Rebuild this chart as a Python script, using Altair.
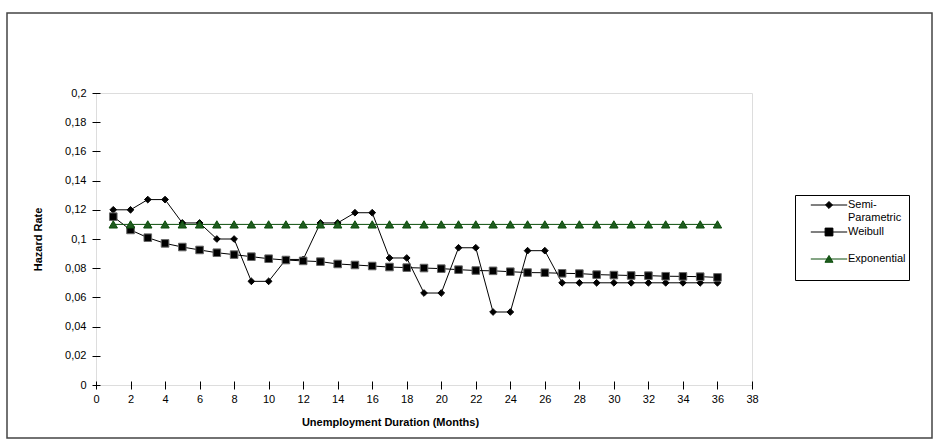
import altair as alt
import pandas as pd

# ---- data ----
months = [1, 2, 3, 4, 5, 6, 7, 8, 9, 10, 11, 12, 13, 14, 15, 16, 17, 18,
          19, 20, 21, 22, 23, 24, 25, 26, 27, 28, 29, 30, 31, 32, 33, 34, 35, 36]

semi_parametric = [0.120, 0.120, 0.127, 0.127, 0.111, 0.111, 0.100, 0.100, 0.071, 0.071,
                   0.086, 0.086, 0.111, 0.111, 0.118, 0.118, 0.087, 0.087, 0.063, 0.063,
                   0.094, 0.094, 0.050, 0.050, 0.092, 0.092, 0.070, 0.070, 0.070, 0.070,
                   0.070, 0.070, 0.070, 0.070, 0.070, 0.070]

weibull = [0.1153, 0.1062, 0.1009, 0.0970, 0.0945, 0.0925, 0.0906, 0.0893, 0.0879, 0.0865,
           0.0856, 0.0850, 0.0845, 0.0829, 0.0822, 0.0815, 0.0808, 0.0804, 0.0801, 0.0797,
           0.0790, 0.0784, 0.0782, 0.0776, 0.0770, 0.0769, 0.0765, 0.0763, 0.0756, 0.0753,
           0.0750, 0.0749, 0.0745, 0.0744, 0.0742, 0.0737]

exponential = [0.110, 0.110, 0.110, 0.110, 0.110, 0.110, 0.110, 0.110, 0.110, 0.110,
               0.110, 0.110, 0.110, 0.110, 0.110, 0.110, 0.110, 0.110, 0.110, 0.110,
               0.110, 0.110, 0.110, 0.110, 0.110, 0.110, 0.110, 0.110, 0.110, 0.110,
               0.110, 0.110, 0.110, 0.110, 0.110, 0.110]

series_names = ["Semi-Parametric", "Weibull", "Exponential"]
x_ticks = [0, 2, 4, 6, 8, 10, 12, 14, 16, 18, 20, 22, 24, 26, 28, 30, 32, 34, 36, 38]
y_ticks = [0, 0.02, 0.04, 0.06, 0.08, 0.1, 0.12, 0.14, 0.16, 0.18, 0.2]

# ---- build long table ----
rows = []
for name, vals in zip(series_names, [semi_parametric, weibull, exponential]):
    for m, v in zip(months, vals):
        rows.append({"month": m, "rate": v, "series": name})
df = pd.DataFrame(rows)

FONT = "Liberation Sans"
line_colors = ["#000000", "#000000", "#0b4d0b"]
fill_colors = ["#000000", "#000000", "#1f5c1f"]
stroke_colors = ["#000000", "#666666", "#0b4d0b"]
shapes = ["diamond", "square", "triangle-up"]
sizes = [45, 70, 60]

# legend symbols: a short line with the series marker in its middle
# (unit = half of sqrt(symbolSize) = 6.5 px)
legend_shapes = [
    "M-2.8,0L2.8,0M-0.54,0L0,-0.54L0.54,0L0,0.54Z",
    "M-2.8,0L2.8,0M-0.6,-0.6L0.6,-0.6L0.6,0.6L-0.6,0.6Z",
    "M-2.8,0L2.8,0M-0.62,0.5L0,-0.55L0.62,0.5Z",
]

label_expr = ("datum.label == 'Semi-Parametric' ? ['Semi-', 'Parametric'] : "
              "datum.label == 'Weibull' ? ['Weibull', ''] : "
              "['Exponential       ', '']")

x_enc = alt.X(
    "month:Q",
    scale=alt.Scale(domain=[0, 38], nice=False, zero=False),
    axis=alt.Axis(
        values=x_ticks, title="Unemployment Duration (Months)", grid=False,
        domain=False, offset=-4, tickSize=8, tickColor="black",
        labelFont=FONT, labelFontSize=11, labelColor="black", labelPadding=4,
        labelFlush=False, labelOverlap=False,
        titleFont=FONT, titleFontSize=11, titleFontWeight="bold", titleColor="black",
        titleX=294, titleY=41, titleBaseline="middle",
    ),
)
y_enc = alt.Y(
    "rate:Q",
    scale=alt.Scale(domain=[0, 0.2], nice=False, zero=True),
    axis=alt.Axis(
        values=y_ticks, title="Hazard Rate", grid=False,
        domain=False, offset=-4, tickSize=8, tickColor="black",
        labelExpr="replace(format(datum.value, '.2~f'), '.', ',')",
        labelFont=FONT, labelFontSize=11, labelColor="black", labelPadding=6,
        labelFlush=False, labelOverlap=False,
        titleFont=FONT, titleFontSize=11, titleFontWeight="bold", titleColor="black",
        titleX=-62, titleY=146, titleAngle=270, titleBaseline="middle", titleAlign="center",
    ),
)

legend = alt.Legend(
    title=None, orient="none", legendX=699, legendY=102,
    labelFont=FONT, labelFontSize=11, labelColor="black", labelExpr=label_expr,
    labelOffset=12, symbolOffset=24, padding=3, rowPadding=2,
    symbolSize=169, symbolStrokeWidth=1, symbolOpacity=1,
    strokeColor="black",
)

lines = alt.Chart(df).mark_line(strokeWidth=1).encode(
    x=x_enc, y=y_enc,
    color=alt.Color("series:N", scale=alt.Scale(domain=series_names, range=line_colors),
                    legend=None),
)

points = alt.Chart(df).mark_point(filled=True, opacity=1, strokeWidth=1).encode(
    x=x_enc, y=y_enc,
    color=alt.Color("series:N", scale=alt.Scale(domain=series_names, range=fill_colors),
                    legend=None),
    shape=alt.Shape("series:N", scale=alt.Scale(domain=series_names, range=shapes),
                    legend=None),
    size=alt.Size("series:N", scale=alt.Scale(domain=series_names, range=sizes), legend=None),
    stroke=alt.Stroke("series:N", scale=alt.Scale(domain=series_names, range=stroke_colors),
                      legend=None),
)

# invisible layer whose only job is to carry the legend (line + marker symbols)
legend_layer = alt.Chart(df).mark_point(filled=True, opacity=0).encode(
    x=x_enc, y=y_enc,
    color=alt.Color("series:N", scale=alt.Scale(domain=series_names, range=fill_colors),
                    legend=legend),
    stroke=alt.Stroke("series:N", scale=alt.Scale(domain=series_names, range=line_colors),
                      legend=legend),
    shape=alt.Shape("series:N", scale=alt.Scale(domain=series_names, range=legend_shapes),
                    legend=legend),
)

frame = alt.Chart(pd.DataFrame({"k": [0]})).mark_rect(
    fillOpacity=0, stroke="#444444", strokeWidth=1.5, clip=False
).encode(
    x=alt.value(-89), x2=alt.value(836), y=alt.value(-80), y2=alt.value(345)
)

chart = alt.layer(frame, lines, points, legend_layer).resolve_scale(
    color="independent", shape="independent", stroke="independent"
).properties(
    width=656, height=292,
    padding={"left": 96, "top": 93, "right": 181, "bottom": 56},
    autosize=alt.AutoSizeParams(type="none"),
).configure_view(
    stroke="black", strokeWidth=1
).configure(background="white")

chart.save("out.html", embed_options={"renderer": "svg", "actions": False})
